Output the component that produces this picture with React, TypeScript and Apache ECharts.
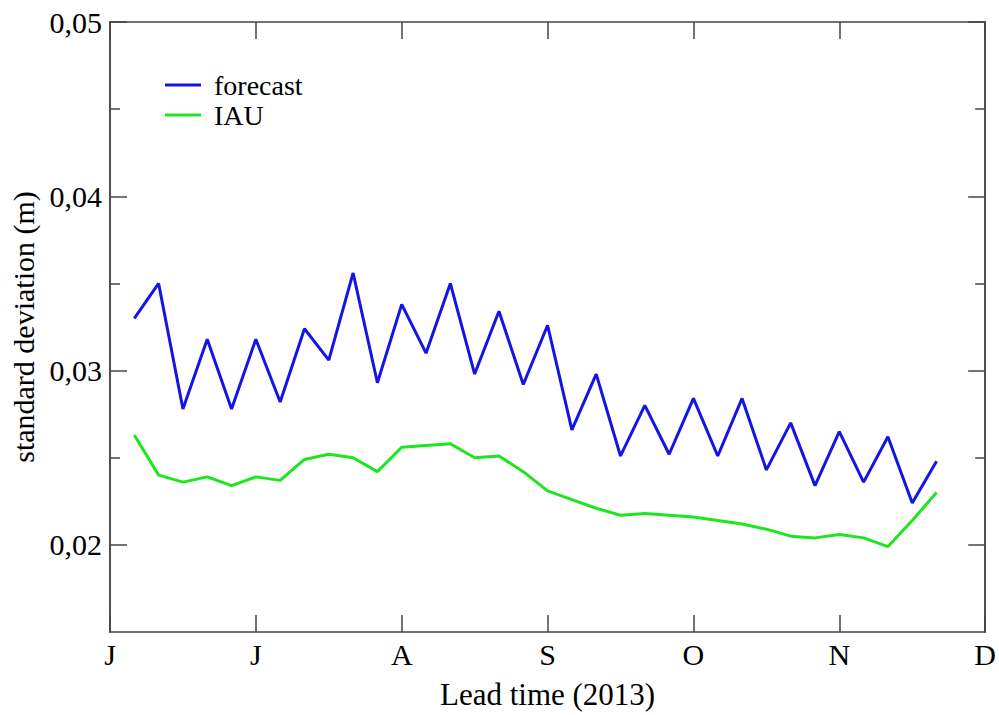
import React, { useEffect, useRef } from "react";
import * as echarts from "echarts";

const monthLabels = ["J", "J", "A", "S", "O", "N", "D"];
const pentads = [1, 2, 3, 4, 5, 6, 7, 8, 9, 10, 11, 12, 13, 14, 15, 16, 17, 18, 19, 20, 21, 22, 23, 24, 25, 26, 27, 28, 29, 30, 31, 32, 33, 34];
const forecast = [0.0330, 0.0350, 0.0278, 0.0318, 0.0278, 0.0318, 0.0282, 0.0324, 0.0306, 0.0356, 0.0293, 0.0338, 0.0310, 0.0350, 0.0298, 0.0334, 0.0292, 0.0326, 0.0266, 0.0298, 0.0251, 0.0280, 0.0252, 0.0284, 0.0251, 0.0284, 0.0243, 0.0270, 0.0234, 0.0265, 0.0236, 0.0262, 0.0224, 0.0248];
const iau = [0.0263, 0.0240, 0.0236, 0.0239, 0.0234, 0.0239, 0.0237, 0.0249, 0.0252, 0.0250, 0.0242, 0.0256, 0.0257, 0.0258, 0.0250, 0.0251, 0.0242, 0.0231, 0.0226, 0.0221, 0.0217, 0.0218, 0.0217, 0.0216, 0.0214, 0.0212, 0.0209, 0.0205, 0.0204, 0.0206, 0.0204, 0.0199, 0.0214, 0.0230];
const majorY = [0.02, 0.03, 0.04, 0.05];
const minorY = [0.025, 0.035, 0.045];

const FONT = "Liberation Serif";
const AXIS_COLOR = "#444444";

export default function App() {
  const ref = useRef<HTMLDivElement>(null);
  useEffect(() => {
    if (!ref.current) return;
    const chart = echarts.init(ref.current, null, { renderer: "svg" });
    const lineStyle = { color: AXIS_COLOR, width: 1.5 };
    const yCommon = {
      type: "value",
      min: 0.015,
      max: 0.05,
      interval: 0.005,
      splitLine: { show: false },
      axisLine: { show: true, lineStyle },
    };
    chart.setOption({
      animation: false,
      backgroundColor: "#ffffff",
      grid: { left: 108, right: 11, top: 22, bottom: 77, containLabel: false },
      legend: {
        orient: "vertical",
        left: 160,
        top: 66,
        itemWidth: 36,
        itemHeight: 14,
        itemGap: 2,
        icon: "path://M0,0 L36,0 L36,3 L0,3 Z",
        textStyle: { fontFamily: FONT, fontSize: 28, color: "#000", padding: [0, 0, 0, 8], lineHeight: 28 },
        data: ["forecast", "IAU"],
      },
      xAxis: [
        {
          type: "value",
          min: 0,
          max: 36,
          interval: 6,
          position: "bottom",
          name: "Lead time (2013)",
          nameLocation: "middle",
          nameGap: 47,
          nameTextStyle: { fontFamily: FONT, fontSize: 31, color: "#000" },
          splitLine: { show: false },
          axisLine: { show: true, lineStyle },
          axisTick: { show: true, inside: true, length: 17, lineStyle },
          axisLabel: {
            fontFamily: FONT,
            fontSize: 30,
            color: "#000",
            margin: 7,
            formatter: (v: number) => monthLabels[Math.round(v / 6)] ?? "",
          },
        },
        {
          type: "value",
          min: 0,
          max: 36,
          interval: 6,
          position: "top",
          splitLine: { show: false },
          axisLine: { show: true, lineStyle },
          axisTick: { show: true, inside: true, length: 17, lineStyle },
          axisLabel: { show: false },
        },
      ],
      yAxis: [
        {
          ...yCommon,
          position: "left",
          name: "standard deviation (m)",
          nameLocation: "middle",
          nameGap: 72,
          nameTextStyle: { fontFamily: FONT, fontSize: 30, color: "#000" },
          axisTick: { show: true, inside: true, length: 17, lineStyle, customValues: majorY },
          axisLabel: {
            fontFamily: FONT,
            fontSize: 30,
            color: "#000",
            margin: 8,
            customValues: majorY,
            formatter: (v: number) => v.toFixed(2).replace(".", ","),
          },
        },
        {
          ...yCommon,
          position: "left",
          axisTick: { show: true, inside: true, length: 10, lineStyle, customValues: minorY },
          axisLabel: { show: false },
        },
        {
          ...yCommon,
          position: "right",
          axisTick: { show: true, inside: true, length: 17, lineStyle, customValues: majorY },
          axisLabel: { show: false },
        },
        {
          ...yCommon,
          position: "right",
          axisTick: { show: true, inside: true, length: 10, lineStyle, customValues: minorY },
          axisLabel: { show: false },
        },
      ],
      series: [
        {
          name: "forecast",
          type: "line",
          symbol: "none",
          xAxisIndex: 0,
          yAxisIndex: 0,
          lineStyle: { color: "#1414e6", width: 3 },
          itemStyle: { color: "#1414e6" },
          data: pentads.map((p, i) => [p, forecast[i]]),
        },
        {
          name: "IAU",
          type: "line",
          symbol: "none",
          xAxisIndex: 0,
          yAxisIndex: 0,
          lineStyle: { color: "#1ee61e", width: 3 },
          itemStyle: { color: "#1ee61e" },
          data: pentads.map((p, i) => [p, iau[i]]),
        },
      ],
    });
    return () => chart.dispose();
  }, []);
  return (
    <div
      ref={ref}
      style={{ position: "fixed", left: 0, top: 0, width: 999, height: 715, background: "#fff" }}
    />
  );
}
